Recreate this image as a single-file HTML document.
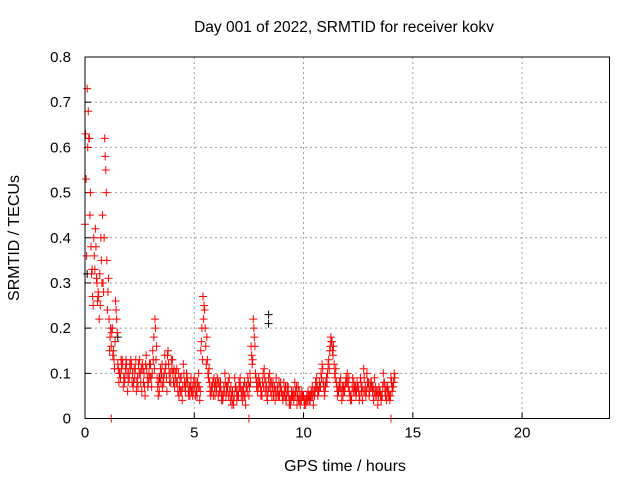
<!DOCTYPE html>
<html><head><meta charset="utf-8"><style>
html,body{margin:0;padding:0;background:#fff;}
svg{display:block;font-family:"Liberation Sans",sans-serif;}
</style></head><body>
<svg id="chart" width="640" height="480" viewBox="0 0 640 480" xmlns="http://www.w3.org/2000/svg">
<text x="344" y="32" font-size="15.5" text-anchor="middle">Day 001 of 2022, SRMTID for receiver kokv</text>
<g id="grid"></g>
<g id="axes"></g>
<g id="pts"></g>
<rect x="85" y="57" width="524.5" height="361.5" fill="none" stroke="#000" stroke-width="1"/>
<text transform="translate(19,238) rotate(-90)" font-size="16" text-anchor="middle">SRMTID / TECUs</text>
<text x="345" y="471" font-size="16" text-anchor="middle">GPS time / hours</text>
</svg>
<script>
const xTicks=[0,5,10,15,20];
const yTicks=[0,0.1,0.2,0.3,0.4,0.5,0.6,0.7,0.8];
const yTickLabels=["0","0.1","0.2","0.3","0.4","0.5","0.6","0.7","0.8"];
const step=0.1;
const seriesA=[0.43,0.73,0.62,0.32,0.40,0.38,0.28,0.25,0.45,0.62,
0.35,0.22,0.16,0.15,0.26,0.12,0.10,0.13,0.08,0.12,
0.10,0.13,0.07,0.11,0.09,0.13,0.06,0.10,0.14,0.08,
0.12,0.15,0.22,0.09,0.06,0.10,0.08,0.12,0.15,0.10,
0.13,0.07,0.11,0.05,0.09,0.12,0.06,0.08,0.05,0.07,
0.09,0.06,0.10,0.15,0.27,0.20,0.13,0.08,0.06,0.09,
0.07,0.05,0.08,0.04,0.10,0.06,0.09,0.05,0.03,0.07,
0.06,0.09,0.04,0.08,0.07,0.05,0.16,0.22,0.10,0.06,
0.08,0.05,0.11,0.07,0.09,0.06,0.08,0.04,0.07,0.05,
0.06,0.08,0.04,0.07,0.03,0.05,0.08,0.03,0.06,0.04,
0.05,0.03,0.06,0.04,0.07,0.05,0.09,0.06,0.10,0.08,
0.07,0.10,0.15,0.17,0.12,0.08,0.06,0.09,0.05,0.07,
0.10,0.06,0.04,0.08,0.05,0.07,0.09,0.04,0.06,0.10,
0.05,0.08,0.04,0.07,0.03,0.06,0.05,0.08,0.04,0.06,
0.09,0.07];
const seriesB=[0.53,0.68,0.50,0.27,0.33,0.30,0.22,0.35,0.28,0.55,
0.28,0.18,0.20,0.11,0.22,0.08,0.13,0.07,0.11,0.06,
0.12,0.08,0.11,0.06,0.12,0.08,0.11,0.05,0.09,0.12,
0.07,0.18,0.13,0.05,0.11,0.07,0.14,0.06,0.10,0.13,
0.08,0.10,0.06,0.09,0.04,0.08,0.10,0.05,0.09,0.06,
0.05,0.08,0.04,0.20,0.25,0.12,0.09,0.05,0.08,0.05,
0.09,0.06,0.04,0.07,0.05,0.08,0.04,0.06,0.09,0.04,
0.08,0.05,0.07,0.03,0.09,0.10,0.12,0.18,0.07,0.09,
0.05,0.10,0.06,0.04,0.10,0.05,0.06,0.09,0.05,0.08,
0.04,0.05,0.07,0.03,0.06,0.04,0.05,0.07,0.03,0.05,
0.03,0.05,0.04,0.06,0.03,0.08,0.05,0.07,0.12,0.05,
0.09,0.13,0.18,0.14,0.09,0.05,0.08,0.04,0.06,0.09,
0.07,0.04,0.09,0.06,0.08,0.04,0.06,0.11,0.05,0.07,
0.08,0.06,0.09,0.05,0.07,0.04,0.10,0.05,0.07,0.04,
0.06,0.10];
const seriesC=[0.63,0.60,0.45,0.33,0.36,0.31,0.27,0.40,0.30,0.58,
0.24,0.15,0.19,0.13,0.24,0.11,0.09,0.12,0.09,0.10,
0.09,0.12,0.08,0.13,0.07,0.10,0.12,0.07,0.11,0.10,
0.09,0.13,0.20,0.07,0.09,0.12,0.10,0.09,0.12,0.08,
0.10,0.09,0.08,0.07,0.06,0.10,0.08,0.06,0.07,0.05,
0.07,0.05,0.07,0.17,0.22,0.16,0.10,0.06,0.07,0.07,
0.06,0.08,0.06,0.05,0.08,0.07,0.06,0.03,0.05,0.06,
0.05,0.07,0.06,0.05,0.06,0.07,0.14,0.20,0.09,0.07,
0.07,0.08,0.09,0.05,0.07,0.08,0.05,0.06,0.06,0.07,
0.05,0.06,0.05,0.05,0.04,0.06,0.06,0.05,0.04,0.06,
0.04,0.04,0.05,0.05,0.05,0.06,0.07,0.08,0.09,0.07,
0.08,0.12,0.16,0.15,0.10,0.07,0.07,0.06,0.07,0.08,
0.08,0.05,0.07,0.07,0.06,0.06,0.08,0.06,0.07,0.08,
0.06,0.07,0.06,0.06,0.05,0.05,0.07,0.06,0.06,0.05,
0.08,0.08];
const seriesD=[0.36,0.62,0.38,0.25,0.42,0.26,0.32,0.30,0.40,0.50,
0.31,0.20,0.14,0.17,0.19,0.10,0.11,0.09,0.13,0.08,
0.11,0.10,0.09,0.08,0.10,0.11,0.08,0.12,0.07,0.09,
0.10,0.11,0.16,0.08,0.08,0.09,0.11,0.14,0.08,0.11,
0.11,0.08,0.10,0.06,0.07,0.07,0.09,0.07,0.06,0.08,
0.08,0.07,0.06,0.13,0.24,0.18,0.11,0.07,0.05,0.08,
0.08,0.07,0.05,0.06,0.07,0.05,0.07,0.04,0.07,0.05,
0.07,0.06,0.05,0.07,0.08,0.08,0.13,0.16,0.08,0.08,
0.06,0.07,0.08,0.06,0.08,0.07,0.07,0.05,0.08,0.06,
0.05,0.07,0.06,0.04,0.05,0.05,0.07,0.04,0.05,0.05,
0.04,0.04,0.05,0.05,0.06,0.07,0.06,0.07,0.11,0.06,
0.08,0.11,0.17,0.16,0.11,0.06,0.07,0.07,0.06,0.08,
0.09,0.05,0.06,0.07,0.07,0.05,0.07,0.09,0.06,0.08,
0.07,0.07,0.05,0.06,0.06,0.05,0.08,0.07,0.05,0.05,
0.07,0.09];
const blackTimes=[0.1,1.5,8.4,8.4,3.4,6.0];
const blackValues=[0.32,0.18,0.23,0.21,0.09,0.07];
const zeroTimes=[1.2,7.5,14.0];
const zeroValues=[0,0,0];

const X0=85,X1=609.5,Y0=418.5,Y1=57;
const xs=t=>X0+t/24*(X1-X0);
const ys=v=>Y0-v/0.8*(Y0-Y1);
const NS="http://www.w3.org/2000/svg";
function mk(tag,attrs,parent){const e=document.createElementNS(NS,tag);for(const k in attrs)e.setAttribute(k,attrs[k]);parent.appendChild(e);return e;}
const grid=document.getElementById('grid'),axes=document.getElementById('axes'),pts=document.getElementById('pts');
xTicks.forEach(t=>{const x=xs(t);
 if(t>0){const g=mk('line',{x1:x,x2:x,y1:Y1,y2:Y0,stroke:'#a0a0a0','stroke-dasharray':'2,3'},grid);
 
 }
 const lb=mk('text',{x:x,y:Y0+19,'font-size':15,'text-anchor':'middle'},axes);lb.textContent=t;
 
 
 mk('line',{x1:x,x2:x,y1:Y0,y2:Y0-6,stroke:'#000'},axes);
});
yTicks.forEach((v,i)=>{const y=ys(v);
 if(v>0&&v<0.8){const g=mk('line',{x1:X0,x2:X1,y1:y,y2:y,stroke:'#a0a0a0','stroke-dasharray':'2,3'},grid);
 
 }
 const lb=mk('text',{x:X0-14,y:y+5,'font-size':15,'text-anchor':'end'},axes);lb.textContent=yTickLabels[i];
 
 
 mk('line',{x1:X0,x2:X0+6,y1:y,y2:y,stroke:'#000'},axes);
});
function cross(t,v,col){const x=xs(t),y=ys(v);
 const p=mk('path',{d:`M${x-4},${y}h8M${x},${y-4}v8`,stroke:col,'stroke-width':1,fill:'none'},pts);
 
 }
blackValues.forEach((v,i)=>cross(blackTimes[i],v,'#000'));
seriesA.forEach((v,i)=>cross(i*step,v,'#f00'));
seriesC.forEach((v,i)=>cross(0.025+i*step,v,'#f00'));
seriesB.forEach((v,i)=>cross(0.05+i*step,v,'#f00'));
seriesD.forEach((v,i)=>cross(0.075+i*step,v,'#f00'));
zeroValues.forEach((v,i)=>cross(zeroTimes[i],v,'#f00'));
</script>
</body></html>
